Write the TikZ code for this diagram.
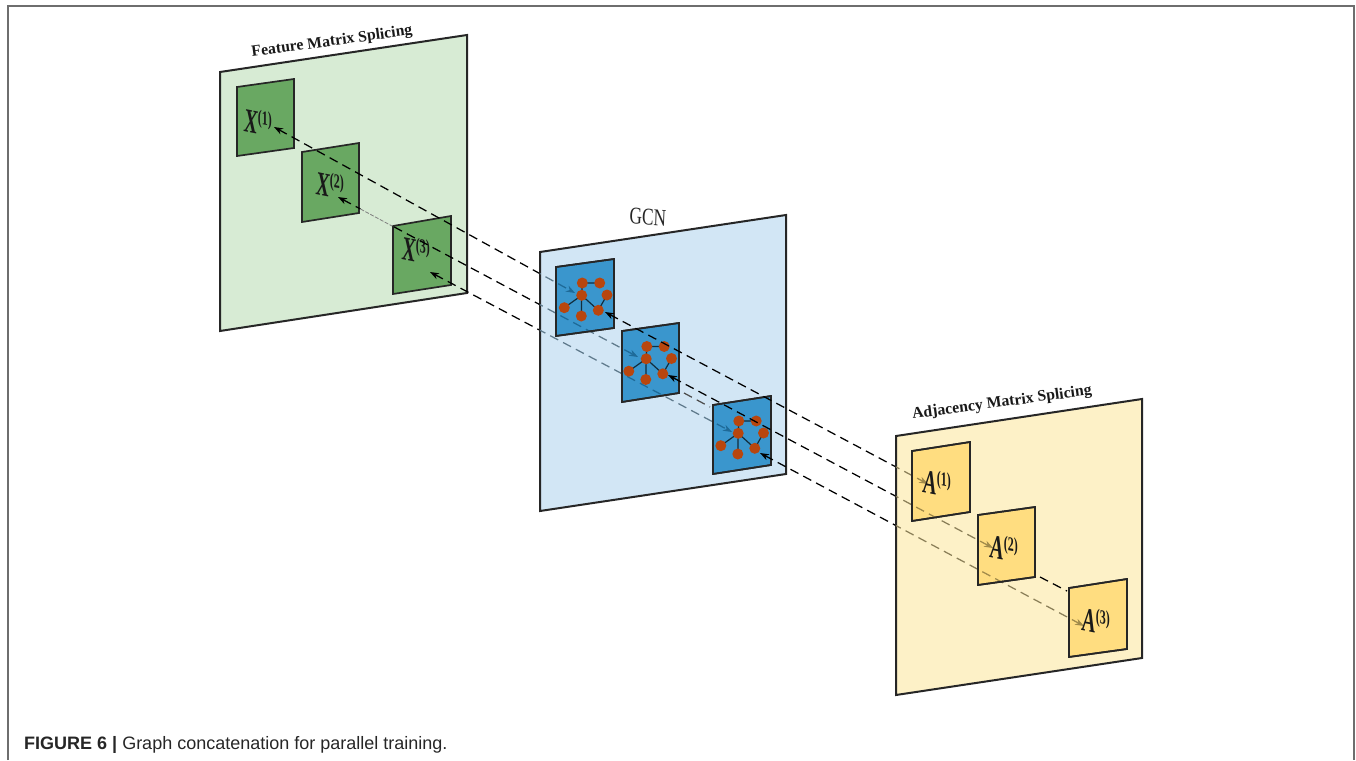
\documentclass[tikz,border=0pt]{standalone}
\usepackage{fontspec}
\setmainfont{Liberation Serif}
\newfontfamily\capfont{Liberation Sans}
\usetikzlibrary{arrows.meta}
\definecolor{gpanel}{HTML}{D7EBD4}
\definecolor{gsq}{HTML}{69A862}
\definecolor{bpanel}{HTML}{D2E6F5}
\definecolor{bsq}{HTML}{3A96CD}
\definecolor{ypanel}{HTML}{FDF1C7}
\definecolor{ysq}{HTML}{FFDD80}
\definecolor{rednode}{HTML}{B8460E}
\definecolor{lbpanel}{HTML}{5F7A8C}
\definecolor{lbsq}{HTML}{1E6A98}
\definecolor{lypanel}{HTML}{8A7F58}
\definecolor{lysq}{HTML}{A08A4A}
\definecolor{framegray}{HTML}{6E6E6E}
\tikzset{
  conn/.style={line width=1.25pt,dash pattern=on 9pt off 5.5pt,{Stealth[length=9pt,width=6.5pt]}-{Stealth[length=9pt,width=6.5pt]}},
  stray/.style={line width=1.25pt,dash pattern=on 9pt off 5.5pt},
  panel/.style={draw=black!85,line width=2pt,line join=miter},
  sqbox/.style={draw=black!85,line width=1.7pt},
  gnode/.style={circle,fill=rednode,minimum size=11pt,inner sep=0pt},
  gedge/.style={draw=black!70!bsq,line width=1.2pt},
  ttl/.style={font=\bfseries\fontsize{15.8}{16}\selectfont,inner sep=0pt,text=black!90},
  mlab/.style={inner sep=0pt,xscale=.6,yslant=-.12,text=black!90},
}
\newcommand\defquad[5]{%
  \coordinate (#1-1) at (#2);\coordinate (#1-2) at (#3);%
  \coordinate (#1-3) at (#4);\coordinate (#1-4) at (#5);}
\newcommand\quadfill[3]{\path[#2,fill=#3] (#1-1)--(#1-2)--(#1-3)--(#1-4)--cycle;}
\newcommand\quadclip[1]{\clip (#1-1)--(#1-2)--(#1-3)--(#1-4)--cycle;}
\newcommand\mtx[2]{{\fontsize{34}{34}\selectfont\bfseries\itshape #1}\raisebox{10pt}{\fontsize{20}{20}\selectfont\bfseries (#2)}}
\newcommand\graphin[2]{%
  \begin{scope}[shift={(#2)}]
    \coordinate (#1a) at (26.3,16);
    \coordinate (#1b) at (43.7,16);
    \coordinate (#1c) at (25.7,28.3);
    \coordinate (#1d) at (51,28);
    \coordinate (#1e) at (8.3,40.7);
    \coordinate (#1f) at (42.3,43.3);
    \coordinate (#1g) at (25.3,49);
    \draw[gedge] (#1a)--(#1b) (#1a)--(#1c) (#1c)--(#1e) (#1c)--(#1g) (#1c)--(#1f) (#1f)--(#1d);
    \foreach \n in {a,b,c,d,e,f,g}{\node[gnode] (#1n\n) at (#1\n) {};}
  \end{scope}}
\newcommand\leftlines[1]{\foreach \a/\b in {Xa/Pa,Xb/Pb,Xc/Pc}{\draw[conn,color=#1] (\a) -- (\b);}}
\newcommand\rightlines[1]{\foreach \a/\b in {Qa/Aa,Qb/Ab,Qc/Ac}{\draw[conn,color=#1] (\a) -- (\b);}}
\begin{document}
\begin{tikzpicture}[x=1pt,y=-1pt]
\useasboundingbox (0,0) rectangle (1356,760);
% outer frame
\coordinate (F1) at (8,760);\coordinate (F2) at (8,6);\coordinate (F3) at (1354,6);\coordinate (F4) at (1354,760);
\draw[framegray,line width=1.4pt] (F1)--(F2)--(F3)--(F4);
\node[anchor=base west,inner sep=0pt,font=\capfont\fontsize{18}{19}\selectfont,text=black!85] (cap) at (24,749) {\textbf{FIGURE 6 |} Graph concatenation for parallel training.};
% geometry
\defquad{GP}{220,72}{467,35}{467,293}{220,331}
\defquad{X1}{237,87}{294,79}{294,148}{237,156}
\defquad{X2}{302,152}{359,143}{359,213}{302,222}
\defquad{X3}{393,226}{451,216}{451,285}{393,294}
\defquad{BP}{540,252}{786,215}{786,474}{540,511}
\defquad{B1}{556,267}{614,259}{614,328}{556,336}
\defquad{B2}{622,331}{679,323}{679,393}{622,402}
\defquad{B3}{713,405}{771,396}{771,465}{713,474}
\defquad{YP}{896,436}{1142,399}{1142,658}{896,695}
\defquad{A1}{912,451}{970,442}{970,512}{912,521}
\defquad{A2}{978,515}{1035,507}{1035,577}{978,585}
\defquad{A3}{1069,588}{1127,579}{1127,649}{1069,657}
% connector ends
\coordinate (Xa) at (274,127);\coordinate (Pa) at (575,293);
\coordinate (Xb) at (338,197);\coordinate (Pb) at (638,357);
\coordinate (Xc) at (430,272);\coordinate (Pc) at (732,432);
\coordinate (Qa) at (605,312);\coordinate (Aa) at (928,484);
\coordinate (Qb) at (668,375);\coordinate (Ab) at (993,548);
\coordinate (Qc) at (760,453);\coordinate (Ac) at (1084,626);
\coordinate (Sa) at (684,393);\coordinate (Sb) at (710,407);
\coordinate (Sc) at (1040,577);\coordinate (Sd) at (1067,591);
\coordinate (Se) at (360.5,209);\coordinate (Sf) at (392,226);
% green
\quadfill{GP}{panel}{gpanel}
\quadfill{X1}{sqbox}{gsq}
\quadfill{X2}{sqbox}{gsq}
\quadfill{X3}{sqbox}{gsq}
\node[mlab] (lx1) at (258,122) {\mtx{X}{1}};
\node[mlab] (lx2) at (330,185) {\mtx{X}{2}};
\node[mlab] (lx3) at (416,250) {\mtx{X}{3}};
\node[ttl,rotate=7.8] (t1) at (332,42) {Feature Matrix Splicing};
\leftlines{black}
\draw[gpanel,line width=3pt] (Se)--(Sf);
\draw[gray,line width=.8pt,dash pattern=on 4pt off 1.5pt] (Se)--(Sf);
\draw[stray,black] (Sa)--(Sb);
% blue
\quadfill{BP}{panel}{bpanel}
\begin{scope}\quadclip{BP}\leftlines{lbpanel}\end{scope}
\draw[stray,black!70] (Sa)--(Sb);
\quadfill{B1}{sqbox}{bsq}
\quadfill{B2}{sqbox}{bsq}
\quadfill{B3}{sqbox}{bsq}
\foreach \q in {B1,B2,B3}{\begin{scope}\quadclip{\q}\leftlines{lbsq}\end{scope}}
\foreach \q in {B1,B2,B3}{\path[sqbox] (\q-1)--(\q-2)--(\q-3)--(\q-4)--cycle;}
\graphin{Ga}{556,267}
\graphin{Gb}{620.5,330.5}
\graphin{Gc}{712.5,405}
\node[font=\fontsize{24}{24}\selectfont,xscale=.72,inner sep=0pt,rotate=-3,text=black!85] (t2) at (648,217) {GCN};
\rightlines{black}
% yellow
\quadfill{YP}{panel}{ypanel}
\begin{scope}\quadclip{YP}\rightlines{lypanel}\end{scope}
\quadfill{A1}{sqbox}{ysq}
\quadfill{A2}{sqbox}{ysq}
\quadfill{A3}{sqbox}{ysq}
\foreach \q in {A1,A2,A3}{\begin{scope}\quadclip{\q}\rightlines{lysq}\end{scope}}
\foreach \q in {A1,A2,A3}{\path[sqbox] (\q-1)--(\q-2)--(\q-3)--(\q-4)--cycle;}
\draw[stray,black] (Sc)--(Sd);
\node[mlab] (la1) at (937,483) {\mtx{A}{1}};
\node[mlab] (la2) at (1004,548) {\mtx{A}{2}};
\node[mlab] (la3) at (1096,621) {\mtx{A}{3}};
\node[ttl,rotate=7.6] (t3) at (1002,403) {Adjacency Matrix Splicing};
\end{tikzpicture}
\end{document}
